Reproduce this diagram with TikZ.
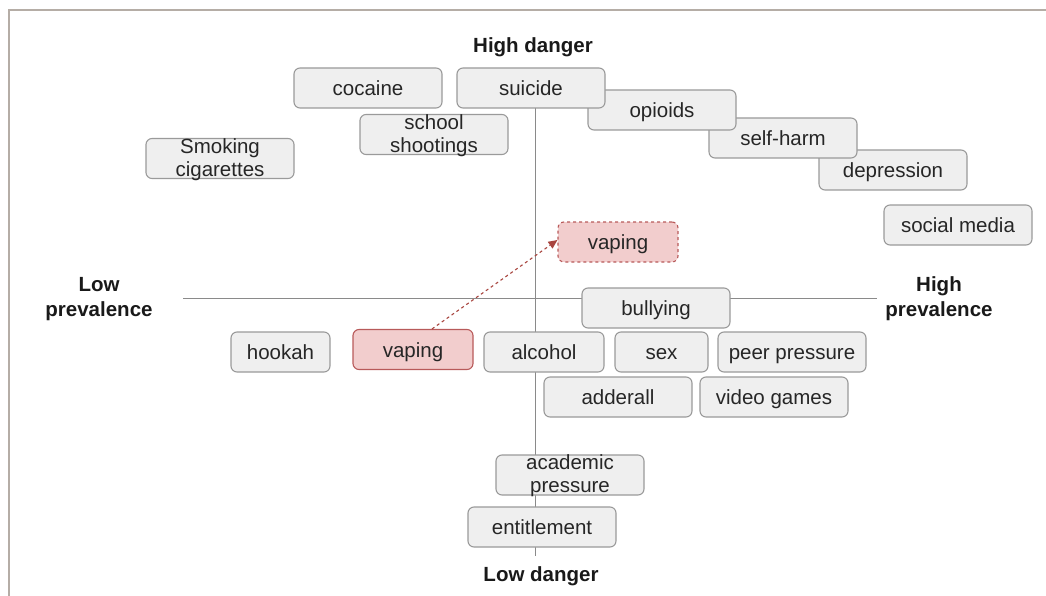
\documentclass[tikz,border=0pt]{standalone}
\usepackage{fontspec}
\setmainfont{Liberation Sans}
\usetikzlibrary{arrows.meta}
\definecolor{boxfill}{HTML}{EFEFEF}
\definecolor{boxline}{HTML}{9A9A9A}
\definecolor{redfill}{HTML}{F2CDCD}
\definecolor{redline}{HTML}{B85A5A}
\definecolor{arrowred}{HTML}{A8453F}
\definecolor{axisgrey}{HTML}{8A8A8A}
\definecolor{framegrey}{HTML}{B5ADA6}
\begin{document}
\begin{tikzpicture}[x=1pt,y=-1pt,
  item/.style={draw=boxline, fill=boxfill, rounded corners=6pt, line width=1.1pt,
    minimum width=148pt, minimum height=40pt, inner sep=0pt,
    text height=19pt, text depth=4pt,
    font=\fontsize{20.5}{20.5}\selectfont, text=black!85},
  reditem/.style={item, draw=redline, fill=redfill},
  twoline/.style={inner sep=0pt, align=center,
    font=\fontsize{20.5}{23}\selectfont, text=black!85},
  axislabel/.style={font=\bfseries\fontsize{20.5}{25}\selectfont, inner sep=0pt, text=black!90},
  axis/.style={draw=axisgrey, line width=1pt}]
\useasboundingbox (0,0) rectangle (1046,596);
% frame
\draw[framegrey, line width=1.6pt] (9,596) -- (9,10) -- (1046,10);
% axes
\coordinate (vtop) at (535,80);
\coordinate (vbot) at (535,556);
\coordinate (hleft) at (183,298);
\coordinate (hright) at (877,298);
\draw[axis] (vtop) -- (vbot);
\draw[axis] (hleft) -- (hright);
% axis labels
\node[axislabel] (hd) at (533,47) {High danger};
\node[axislabel] (ld) at (541,576) {Low danger};
\node[axislabel, align=center] (lp) at (99,299) {Low\\prevalence};
\node[axislabel, align=center] (hp) at (939,299) {High\\prevalence};
% boxes (drawn so that later ones overlap earlier ones)
\node[item] (depression) at (893,170) {depression};
\node[item] (selfharm) at (783,138) {self-harm};
\node[item] (opioids) at (662,110) {opioids};
\node[item] (suicide) at (531,88) {suicide};
\node[item] (cocaine) at (368,88) {cocaine};
\node[item] (school) at (434,134.5) {};
\node[twoline] (schooltext) at (434,136) {school\\shootings};
\node[item] (smoking) at (220,158.5) {};
\node[twoline] (smokingtext) at (220,159.5) {Smoking\\cigarettes};
\node[item] (social) at (958,225) {social media};
\node[reditem, dashed, minimum width=120pt] (vapehigh) at (618,242) {vaping};
\node[item] (bullying) at (656,308) {bullying};
\node[item, minimum width=99pt] (hookah) at (280.5,352) {hookah};
\node[reditem, minimum width=120pt] (vapelow) at (413,349.5) {vaping};
\node[item, minimum width=120pt] (alcohol) at (544,352) {alcohol};
\node[item, minimum width=93pt] (sex) at (661.5,352) {sex};
\node[item] (peer) at (792,352) {peer pressure};
\node[item] (adderall) at (618,397) {adderall};
\node[item] (video) at (774,397) {video games};
\node[item] (academic) at (570,475) {};
\node[twoline] (academictext) at (570,476) {academic\\pressure};
\node[item] (entitlement) at (542,527) {entitlement};
% arrow
\draw[arrowred, dashed, line width=1.1pt, -{Triangle[length=9pt,width=8pt]}]
  ([xshift=19pt]vapelow.north) -- ([yshift=2pt]vapehigh.west);
\end{tikzpicture}
\end{document}
